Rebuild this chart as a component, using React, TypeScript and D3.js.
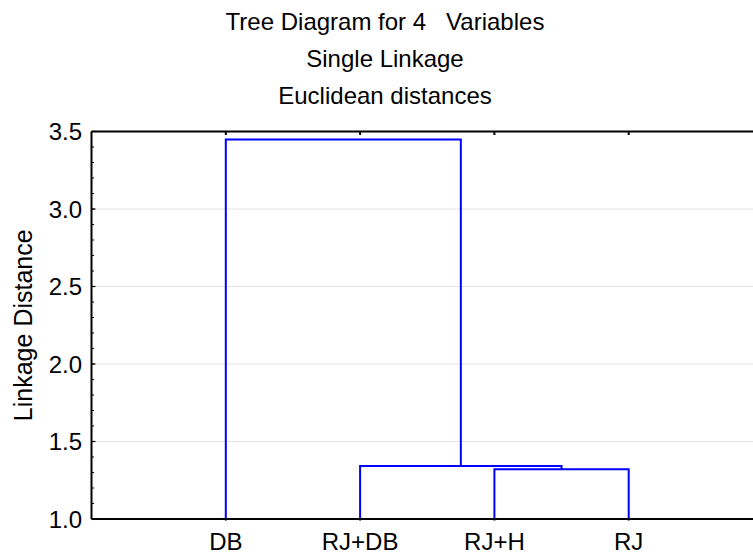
import { useEffect, useRef } from "react";
import * as d3 from "d3";

// leaves in plot order
const leaves = ["DB", "RJ+DB", "RJ+H", "RJ"];
// merges: [left child, right child, linkage distance]; children are leaf names or cluster ids "c0", "c1"...
const mergeLeft = ["RJ+H", "RJ+DB", "DB"];
const mergeRight = ["RJ", "c0", "c1"];
const mergeHeight = [1.321, 1.342, 3.448];
const yTicks = [1.0, 1.5, 2.0, 2.5, 3.0, 3.5];
const titleLines = ["Tree Diagram for 4   Variables", "Single Linkage", "Euclidean distances"];

export default function App() {
  const svgRef = useRef<SVGSVGElement>(null);

  useEffect(() => {
    const width = 753;
    const height = 557;
    const font = "'Liberation Sans', Arial, sans-serif";
    const fs = 24;

    const svg = d3.select(svgRef.current);
    svg.selectAll("*").remove();

    const x = d3.scaleLinear().domain([0, leaves.length + 1]).range([91.5, 763]);
    const y = d3.scaleLinear().domain([1, 3.5]).range([519, 131.5]);
    const x0 = x(0);

    // gridlines
    svg
      .append("g")
      .selectAll("line")
      .data(yTicks.filter((t) => t > 1 && t < 3.5))
      .join("line")
      .attr("x1", x0)
      .attr("x2", width)
      .attr("y1", (d) => y(d))
      .attr("y2", (d) => y(d))
      .attr("stroke", "#e3e3e3")
      .attr("stroke-width", 1);

    // minor ticks on the left axis
    const minor = d3.range(10, 36).map((v) => v / 10);
    svg
      .append("g")
      .selectAll("line")
      .data(minor)
      .join("line")
      .attr("x1", x0)
      .attr("x2", x0 + 2.5)
      .attr("y1", (d) => y(d))
      .attr("y2", (d) => y(d))
      .attr("stroke", "#000")
      .attr("stroke-width", 1);

    // dendrogram
    const pos: Record<string, { x: number; h: number }> = {};
    leaves.forEach((l, i) => (pos[l] = { x: x(i + 1), h: 1 }));
    const links = svg.append("g").attr("fill", "none").attr("stroke", "#0000ff").attr("stroke-width", 2);
    mergeHeight.forEach((h, i) => {
      const a = pos[mergeLeft[i]];
      const b = pos[mergeRight[i]];
      const path = d3.path();
      path.moveTo(a.x, y(a.h));
      path.lineTo(a.x, y(h));
      path.lineTo(b.x, y(h));
      path.lineTo(b.x, y(b.h));
      links.append("path").attr("d", path.toString());
      pos["c" + i] = { x: (a.x + b.x) / 2, h };
    });

    // frame: left axis, bottom axis, top line
    const frame = svg.append("g").attr("stroke", "#000").attr("stroke-width", 2).attr("fill", "none");
    frame.append("line").attr("x1", x0).attr("x2", x0).attr("y1", y(3.5)).attr("y2", y(1));
    frame.append("line").attr("x1", x0).attr("x2", width).attr("y1", y(1)).attr("y2", y(1));
    frame.append("line").attr("x1", x0).attr("x2", width).attr("y1", y(3.5)).attr("y2", y(3.5));

    // leaf ticks top and bottom
    const ticks = svg.append("g").attr("stroke", "#000").attr("stroke-width", 2);
    leaves.forEach((_, i) => {
      ticks.append("line").attr("x1", x(i + 1)).attr("x2", x(i + 1)).attr("y1", y(3.5)).attr("y2", y(3.5) + 3.5);
      ticks.append("line").attr("x1", x(i + 1)).attr("x2", x(i + 1)).attr("y1", y(1)).attr("y2", y(1) + 1.5);
    });
    // major y ticks
    svg
      .append("g")
      .selectAll("line")
      .data(yTicks)
      .join("line")
      .attr("x1", x0)
      .attr("x2", x0 + 4)
      .attr("y1", (d) => y(d))
      .attr("y2", (d) => y(d))
      .attr("stroke", "#000")
      .attr("stroke-width", 1.2);

    // y tick labels
    svg
      .append("g")
      .selectAll("text")
      .data(yTicks)
      .join("text")
      .attr("x", 82)
      .attr("y", (d) => y(d))
      .attr("dy", "0.36em")
      .attr("text-anchor", "end")
      .attr("font-family", font)
      .attr("font-size", fs)
      .text((d) => d3.format(".1f")(d));

    // x labels
    svg
      .append("g")
      .selectAll("text")
      .data(leaves)
      .join("text")
      .attr("x", (_, i) => x(i + 1))
      .attr("y", 549.5)
      .attr("text-anchor", "middle")
      .attr("font-family", font)
      .attr("font-size", fs)
      .text((d) => d);

    // y axis title
    svg
      .append("text")
      .attr("transform", `translate(31.5,${(y(1) + y(3.5)) / 2}) rotate(-90)`)
      .attr("text-anchor", "middle")
      .attr("font-family", font)
      .attr("font-size", 25)
      .text("Linkage Distance");

    // title
    svg
      .append("g")
      .selectAll("text")
      .data(titleLines)
      .join("text")
      .attr("x", 385)
      .attr("y", (_, i) => 29.5 + i * 37)
      .attr("text-anchor", "middle")
      .attr("font-family", font)
      .attr("font-size", fs)
      .style("white-space", "pre")
      .attr("xml:space", "preserve")
      .text((d) => d);
  }, []);

  return (
    <svg
      ref={svgRef}
      width={753}
      height={557}
      style={{ position: "absolute", left: 0, top: 0, background: "#fff" }}
    ></svg>
  );
}
